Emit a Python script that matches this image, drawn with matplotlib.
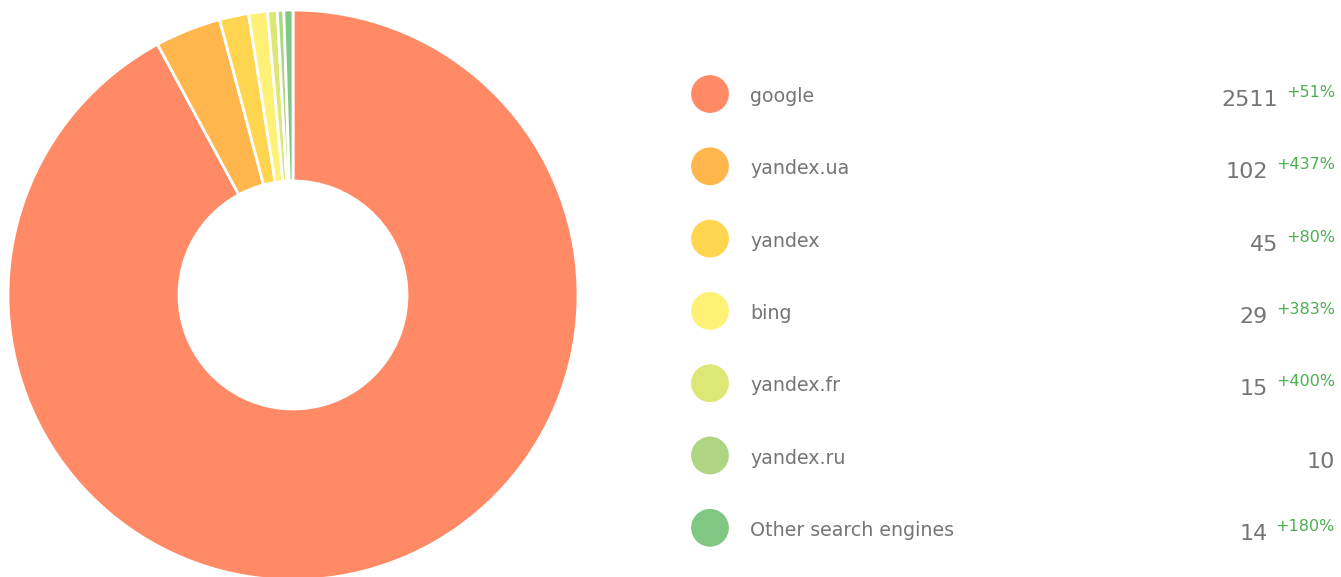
import matplotlib
matplotlib.use("Agg")
import matplotlib.pyplot as plt

labels = ["google", "yandex.ua", "yandex", "bing", "yandex.fr", "yandex.ru", "Other search engines"]
values = [2511, 102, 45, 29, 15, 10, 14]
changes = ["+51%", "+437%", "+80%", "+383%", "+400%", "", "+180%"]
colors = ["#FF8A65", "#FFB74D", "#FFD54F", "#FFF176", "#DCE775", "#AED581", "#81C784"]

W, H = 1341, 577
fig = plt.figure(figsize=(W / 100, H / 100), dpi=100)

# donut
ax = fig.add_axes([8 / W, (H - 580) / H, 570 / W, 570 / H])
ax.pie(values, colors=colors, startangle=90, counterclock=False,
       wedgeprops=dict(width=0.6, edgecolor="white", linewidth=2))
ax.set_xlim(-1, 1)
ax.set_ylim(-1, 1)
ax.set_aspect("equal")
ax.axis("off")

# legend drawn in pixel coordinates
lg = fig.add_axes([0, 0, 1, 1])
lg.set_xlim(0, W)
lg.set_ylim(H, 0)
lg.axis("off")

row_y = [94 + 72.3 * i for i in range(len(labels))]
lg.scatter([710] * len(labels), row_y, s=740, c=colors, marker="o", linewidths=0)

fig.canvas.draw()
renderer = fig.canvas.get_renderer()
for y, lab, val, ch in zip(row_y, labels, values, changes):
    lg.text(750, y + 8, lab, fontsize=13.7, color="#757575", va="baseline", ha="left")
    right = 1335
    if ch:
        t = lg.text(right, y + 3, ch, fontsize=11.5, color="#4CAF50", va="baseline", ha="right")
        bb = t.get_window_extent(renderer)
        right = right - bb.width - 8
    lg.text(right, y + 12, str(val), fontsize=16, color="#757575", va="baseline", ha="right")

fig.savefig("out.png", dpi=100)
